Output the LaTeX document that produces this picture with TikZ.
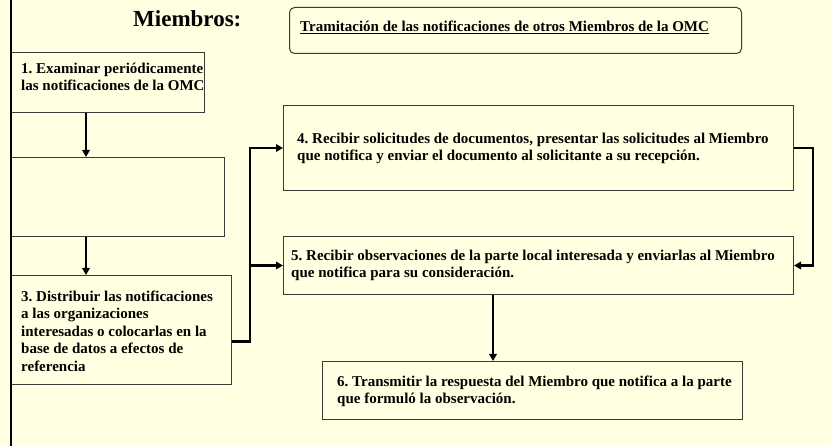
\documentclass[tikz,border=0pt]{standalone}
\usepackage{fontspec}
\setmainfont{Liberation Serif}
\usetikzlibrary{arrows.meta}
\definecolor{bg}{HTML}{FFFFE1}
\definecolor{edge}{HTML}{3A3A3A}
\newcommand\firstline{\rule{0pt}{12pt}}
\frenchspacing
\begin{document}
\begin{tikzpicture}[x=1pt,y=-1pt,
  box/.style={draw=edge,line width=1pt,fill=bg,rectangle,inner sep=0pt,anchor=north west},
  txt/.style={font=\fontsize{15}{17.5}\selectfont\bfseries\frenchspacing,align=left,inner sep=0pt,anchor=north west},
  conn/.style={line width=2.6pt,line join=miter},
  arr/.style={conn,-{Triangle[length=7pt,width=7.5pt]}}]
\useasboundingbox (0,0) rectangle (831,446);
\fill[bg] (0,0) rectangle (831,446);
% title
\node[font=\fontsize{23}{26}\selectfont\bfseries,anchor=base west,inner sep=0pt] (ttl) at (133,27) {Miembros:};
\node[box,rounded corners=5pt,minimum width=452pt,minimum height=46pt] (hb) at (289,7) {};
\node[txt,anchor=base west] (ht) at (300,32) {\underline{Tramitación de las notificaciones de otros Miembros de la OMC}};
% boxes
\node[box,minimum width=193pt,minimum height=60pt] (b1) at (11,52) {};
\node[box,minimum width=213pt,minimum height=79pt] (b2) at (11,157) {};
\node[box,minimum width=220pt,minimum height=109pt] (b3) at (11,275) {};
\node[box,minimum width=510pt,minimum height=85pt] (b4) at (283,105) {};
\node[box,minimum width=510pt,minimum height=58pt] (b5) at (283,236) {};
\node[box,minimum width=420pt,minimum height=58pt] (b6) at (322,361) {};
% texts
\node[txt] (t1) at (21,61) {\firstline 1. Examinar periódicamente\\las notificaciones de la OMC};
\node[txt] (t3) at (21,289) {\firstline 3. Distribuir las notificaciones\\a las organizaciones\\interesadas o colocarlas en la\\base de datos a efectos de\\referencia};
\node[txt] (t4) at (297,131) {\firstline 4. Recibir solicitudes de documentos, presentar las solicitudes al Miembro\\que notifica y enviar el documento al solicitante a su recepción.};
\node[txt] (t5) at (291,248) {\firstline 5. Recibir observaciones de la parte local interesada y enviarlas al Miembro\\que notifica para su consideración.};
\node[txt] (t6) at (337,374) {\firstline 6. Transmitir la respuesta del Miembro que notifica a la parte\\que formuló la observación.};
% left frame line
\coordinate (ftop) at (11,0);
\coordinate (fbot) at (11,446);
\draw[line width=2.7pt] (ftop) -- (fbot);
% connectors
\coordinate (m) at (86,0);
\coordinate (j) at (250,0);
\coordinate (k) at (813,0);
\coordinate (n) at (493,0);
\draw[arr] (b1.south -| m) -- (b2.north -| m);
\draw[arr] (b2.south -| m) -- (b3.north -| m);
\draw[arr] ([yshift=-11.5pt]b3.east) -| (j |- b4.west) -- (b4.west);
\draw[arr] (j |- b5.west) -- (b5.west);
\draw[arr] (b4.east) -| (k |- b5.east) -- (b5.east);
\draw[arr] (b5.south -| n) -- (b6.north -| n);
\end{tikzpicture}
\end{document}
